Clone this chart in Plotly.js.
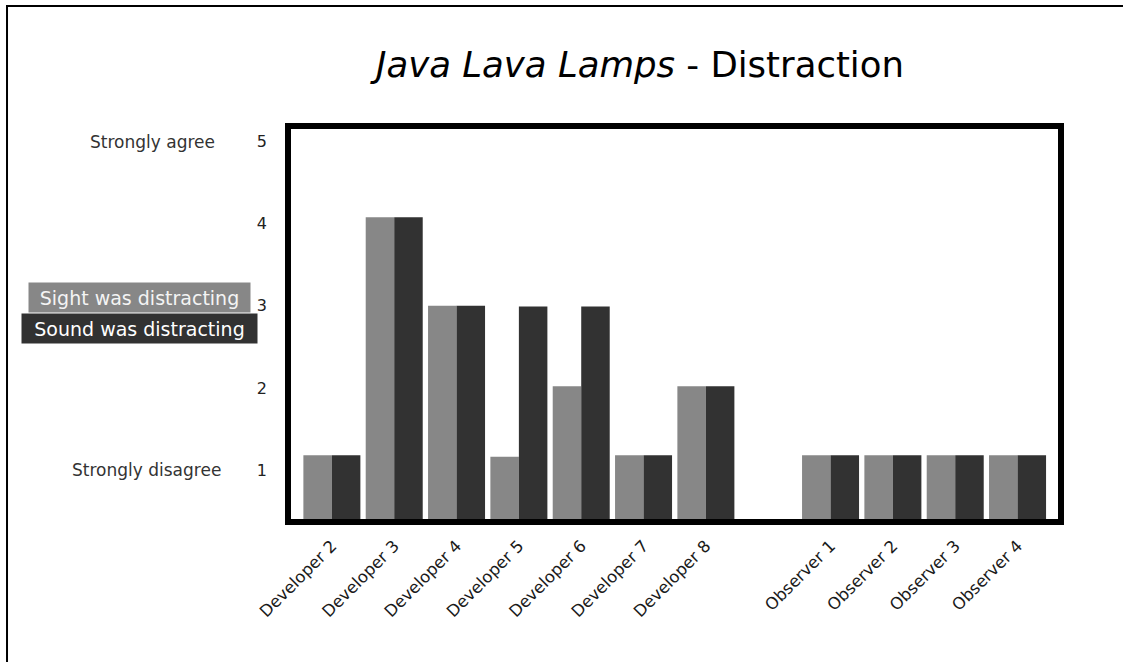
<!DOCTYPE html>
<html>
<head>
<meta charset="utf-8">
<script src="https://cdn.plot.ly/plotly-3.0.1.min.js"></script>
<style>
  html, body { margin: 0; padding: 0; background: #ffffff; overflow: hidden; }
  #chart { width: 1123px; height: 662px; overflow: hidden; }
</style>
</head>
<body>
<div id="chart"></div>
<script>
// ---- data ----
const categories = [
  "Developer 2", "Developer 3", "Developer 4", "Developer 5",
  "Developer 6", "Developer 7", "Developer 8", " ",
  "Observer 1", "Observer 2", "Observer 3", "Observer 4"
];
const sightValues = [1.18, 4.08, 3.0, 1.16, 2.02, 1.18, 2.02, null, 1.18, 1.18, 1.18, 1.18];
const soundValues = [1.18, 4.08, 3.0, 2.99, 2.99, 1.18, 2.02, null, 1.18, 1.18, 1.18, 1.18];
const seriesNames = ["Sight was distracting", "Sound was distracting"];
const yTickVals = [1, 2, 3, 4, 5];
const yTickText = ["1", "2", "3", "4", "5"];
const scaleLabelText = ["Strongly disagree", "Strongly agree"];
const scaleLabelValues = [1, 5];
const titleText = "<i>Java Lava Lamps</i> - Distraction";

// ---- styling ----
const FONT = "DejaVu Sans, Verdana, sans-serif";
const sightColor = "#878787";
const soundColor = "#323232";

const traces = [
  { type: "bar", name: seriesNames[0], x: categories, y: sightValues,
    marker: { color: sightColor }, hoverinfo: "x+y+name" },
  { type: "bar", name: seriesNames[1], x: categories, y: soundValues,
    marker: { color: soundColor }, hoverinfo: "x+y+name" }
];

const annotations = [
  { text: scaleLabelText[1], xref: "paper", yref: "y", x: -0.0918, y: scaleLabelValues[1],
    xanchor: "right", yanchor: "middle", showarrow: false,
    font: { family: FONT, size: 17, color: "#333333" } },
  { text: scaleLabelText[0], xref: "paper", yref: "y", x: -0.0841, y: scaleLabelValues[0],
    xanchor: "right", yanchor: "middle", showarrow: false,
    font: { family: FONT, size: 17, color: "#333333" } },
  { text: seriesNames[0], xref: "paper", yref: "paper", x: -0.1915, y: 0.5662,
    xanchor: "center", yanchor: "middle", showarrow: false,
    bgcolor: sightColor, borderpad: 2, width: 217, height: 25,
    font: { family: FONT, size: 19, color: "#f4f4f4" } },
  { text: seriesNames[1], xref: "paper", yref: "paper", x: -0.1915, y: 0.4879,
    xanchor: "center", yanchor: "middle", showarrow: false,
    bgcolor: soundColor, borderpad: 2, width: 231, height: 25,
    font: { family: FONT, size: 19, color: "#ffffff" } }
];

const shapes = [
  // plot frame
  { type: "rect", xref: "paper", yref: "paper", x0: 0, x1: 1, y0: 0, y1: 1,
    line: { color: "#000000", width: 6 }, fillcolor: "rgba(0,0,0,0)", layer: "above" },
  // outer page frame: left and top edges only (the rest runs off the page)
  { type: "line", xref: "paper", yref: "paper", x0: -0.3635, x1: -0.3635, y0: -0.3535, y1: 1.3055,
    line: { color: "#000000", width: 2 }, layer: "above" },
  { type: "line", xref: "paper", yref: "paper", x0: -0.3648, x1: 1.0802, y0: 1.303, y1: 1.303,
    line: { color: "#000000", width: 2 }, layer: "above" }
];

const layout = {
  width: 1123, height: 662,
  margin: { l: 288, r: 62, t: 126, b: 140, pad: 0 },
  paper_bgcolor: "#ffffff", plot_bgcolor: "#ffffff",
  showlegend: false,
  barmode: "group", bargap: 0.0855, bargroupgap: 0,
  title: {
    text: titleText,
    font: { family: FONT, size: 35.5, color: "#000000" },
    xref: "container", x: 0.5699, xanchor: "center",
    yref: "container", y: 0.9018, yanchor: "middle"
  },
  xaxis: {
    type: "category", range: [-0.704, 11.697],
    tickangle: -45, showgrid: false, zeroline: false, showline: false, ticks: "",
    ticklabelstandoff: 10,
    tickfont: { family: FONT, size: 16.5, color: "#1a1a1a" }
  },
  yaxis: {
    range: [0.3667, 5.19], tickvals: yTickVals, ticktext: yTickText,
    showgrid: false, zeroline: false, showline: false, ticks: "",
    ticklabelstandoff: 20,
    tickfont: { family: FONT, size: 16, color: "#222222" }
  },
  annotations: annotations,
  shapes: shapes
};

Plotly.newPlot("chart", traces, layout, { displayModeBar: false, staticPlot: true });
</script>
</body>
</html>
